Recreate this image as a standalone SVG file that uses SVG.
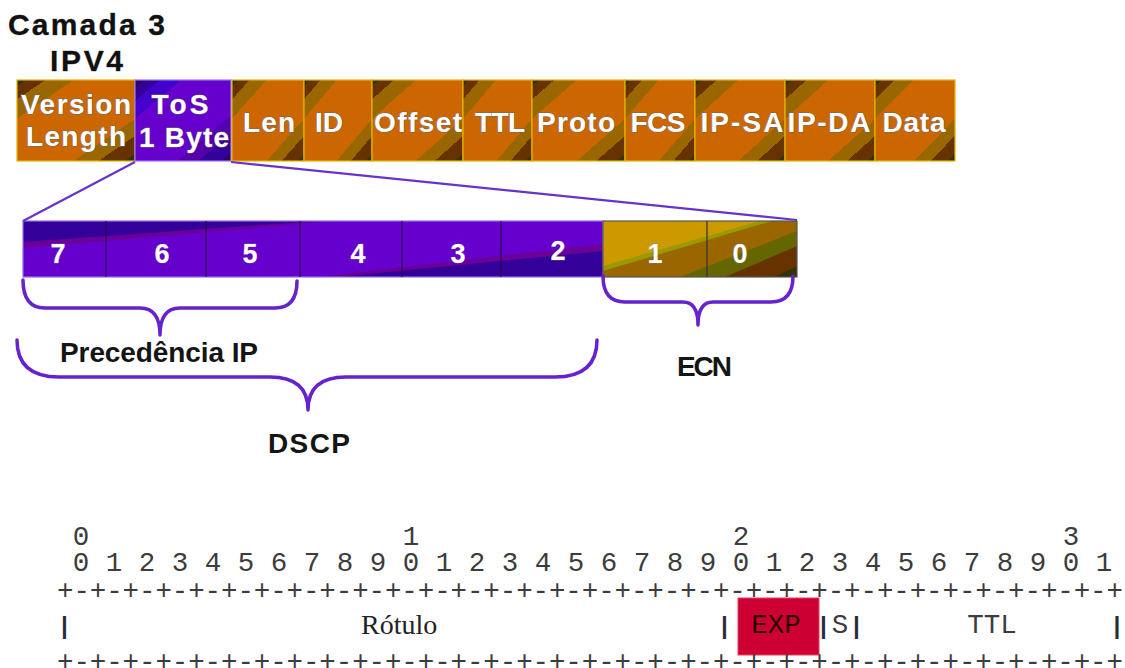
<svg xmlns="http://www.w3.org/2000/svg" width="1125" height="668" viewBox="0 0 1125 668">
<style>
.bg{fill:#fff}
.cell{stroke:#E3B400;stroke-width:1.2}
.tos{stroke:#9A77EE;stroke-width:1.2}
.fl{font-family:"Liberation Sans",Arial,sans-serif;font-weight:bold;font-size:28px;fill:#fff;stroke:#6a6a6a;stroke-width:0.9;paint-order:stroke;text-anchor:middle}
.bit{font-family:"Liberation Sans",Arial,sans-serif;font-weight:bold;font-size:27px;fill:#fff;stroke:#8a7aa0;stroke-width:0.5;paint-order:stroke;text-anchor:middle}
.ttl{font-family:"Liberation Sans",Arial,sans-serif;font-weight:bold;font-size:30px;fill:#111;stroke:#555;stroke-width:0.4;paint-order:stroke}
.lbl{font-family:"Liberation Sans",Arial,sans-serif;font-weight:bold;font-size:28px;fill:#151515}
.mono{font-family:"Liberation Mono","Courier New",monospace;font-size:27.5px;fill:#3c3c3c}
.bar{font-family:"Liberation Mono","Courier New",monospace;font-size:24px;font-weight:bold;fill:#2a2a3a;text-anchor:middle}
.ser{font-family:"Liberation Serif","Times New Roman",serif;font-size:28px;fill:#222}
.brace{fill:none;stroke:#6622CC;stroke-width:3.5;stroke-linecap:round;stroke-linejoin:round}
.zoom{fill:none;stroke:#6633CC;stroke-width:2.2}
.div{stroke:#2a0850;stroke-width:1.2}
</style>
<defs>
<linearGradient id="org" x1="0" y1="0" x2="1" y2="1">
<stop offset="0" stop-color="#333300"/><stop offset="0.04" stop-color="#333300"/>
<stop offset="0.04" stop-color="#663300"/><stop offset="0.12" stop-color="#663300"/>
<stop offset="0.12" stop-color="#996600"/><stop offset="0.24" stop-color="#996600"/>
<stop offset="0.24" stop-color="#CC6600"/><stop offset="0.74" stop-color="#CC6600"/>
<stop offset="0.74" stop-color="#996600"/><stop offset="0.845" stop-color="#996600"/>
<stop offset="0.845" stop-color="#663300"/><stop offset="0.955" stop-color="#663300"/>
<stop offset="0.955" stop-color="#333300"/><stop offset="1" stop-color="#333300"/>
</linearGradient>
<linearGradient id="pur" x1="0" y1="0" x2="1" y2="1">
<stop offset="0" stop-color="#330066"/><stop offset="0.05" stop-color="#330066"/>
<stop offset="0.05" stop-color="#330099"/><stop offset="0.13" stop-color="#330099"/>
<stop offset="0.13" stop-color="#4400CC"/><stop offset="0.24" stop-color="#4400CC"/>
<stop offset="0.24" stop-color="#6600CC"/><stop offset="0.72" stop-color="#6600CC"/>
<stop offset="0.72" stop-color="#5500AA"/><stop offset="0.83" stop-color="#5500AA"/>
<stop offset="0.83" stop-color="#330099"/><stop offset="0.95" stop-color="#330099"/>
<stop offset="0.95" stop-color="#330066"/><stop offset="1" stop-color="#330066"/>
</linearGradient>
</defs>
<rect class="bg" x="0" y="0" width="1125" height="668"/>

<g id="title">
<text class="ttl" x="8" y="35" textLength="157" lengthAdjust="spacing">Camada 3</text>
<text class="ttl" x="50" y="71" textLength="73" lengthAdjust="spacing">IPV4</text>
</g>

<g id="ipv4-header">
<g id="f-version"><rect class="cell" x="17" y="80" width="118" height="81" fill="url(#org)"/>
<text class="fl" x="76" y="114" textLength="110" lengthAdjust="spacing">Version</text>
<text class="fl" x="76" y="146" textLength="100" lengthAdjust="spacing">Length</text></g>
<g id="f-tos"><rect class="tos" x="135" y="80" width="96" height="81" fill="url(#pur)"/>
<text class="fl" x="180" y="114" textLength="57" lengthAdjust="spacing">ToS</text>
<text class="fl" x="184" y="147" textLength="90" lengthAdjust="spacing">1 Byte</text></g>
<g id="f-len"><rect class="cell" x="232" y="80" width="72" height="81" fill="url(#org)"/>
<text class="fl" x="269" y="132" textLength="52" lengthAdjust="spacing">Len</text></g>
<g id="f-id"><rect class="cell" x="304" y="80" width="68" height="81" fill="url(#org)"/>
<text class="fl" x="329" y="132" textLength="28" lengthAdjust="spacing">ID</text></g>
<g id="f-offset"><rect class="cell" x="372" y="80" width="91" height="81" fill="url(#org)"/>
<text class="fl" x="418" y="132" textLength="88" lengthAdjust="spacing">Offset</text></g>
<g id="f-ttl"><rect class="cell" x="463" y="80" width="69" height="81" fill="url(#org)"/>
<text class="fl" x="500" y="132" textLength="50" lengthAdjust="spacing">TTL</text></g>
<g id="f-proto"><rect class="cell" x="532" y="80" width="93" height="81" fill="url(#org)"/>
<text class="fl" x="576" y="132" textLength="78" lengthAdjust="spacing">Proto</text></g>
<g id="f-fcs"><rect class="cell" x="625" y="80" width="70" height="81" fill="url(#org)"/>
<text class="fl" x="658" y="132" textLength="55" lengthAdjust="spacing">FCS</text></g>
<g id="f-ipsa"><rect class="cell" x="695" y="80" width="90" height="81" fill="url(#org)"/>
<text class="fl" x="742" y="132" textLength="83" lengthAdjust="spacing">IP-SA</text></g>
<g id="f-ipda"><rect class="cell" x="785" y="80" width="90" height="81" fill="url(#org)"/>
<text class="fl" x="829" y="132" textLength="83" lengthAdjust="spacing">IP-DA</text></g>
<g id="f-data"><rect class="cell" x="875" y="80" width="80" height="81" fill="url(#org)"/>
<text class="fl" x="914" y="132" textLength="63" lengthAdjust="spacing">Data</text></g>
</g>

<g id="tos-byte">
<g id="dscp-bits">
<rect x="23" y="221" width="580" height="56" fill="#6600CC"/>
<polygon points="23,221 332,221 23,248" fill="#6A0099"/>
<polygon points="23,221 316,221 23,242" fill="#330099"/>
<polygon points="603,244 603,277 318,277" fill="#6A0099"/>
<polygon points="603,251 603,277 338,277" fill="#330099"/>
<rect x="23" y="221" width="580" height="56" fill="none" stroke="#8F72E8" stroke-width="1.2"/>
<line class="div" x1="106" y1="221" x2="106" y2="277"/>
<line class="div" x1="206" y1="221" x2="206" y2="277"/>
<line class="div" x1="300" y1="221" x2="300" y2="277"/>
<line class="div" x1="402" y1="221" x2="402" y2="277"/>
<line class="div" x1="501" y1="221" x2="501" y2="277"/>
</g>
<g id="ecn-bits">
<rect x="603" y="221" width="194" height="56" fill="#996600"/>
<polygon points="603,221 772,221 603,271" fill="#999900"/>
<polygon points="603,221 760,221 603,266" fill="#CC9900"/>
<polygon points="797,231 797,277 680,277" fill="#666600"/>
<polygon points="797,246 797,277 725,277" fill="#663300"/>
<polygon points="797,266 797,277 775,277" fill="#333300"/>
<rect x="603" y="221" width="194" height="56" fill="none" stroke="#555" stroke-width="1.2"/>
<line x1="707" y1="221" x2="707" y2="277" stroke="#333" stroke-width="1.2"/>
</g>
<text class="bit" x="58" y="263">7</text>
<text class="bit" x="162" y="263">6</text>
<text class="bit" x="250" y="263">5</text>
<text class="bit" x="358" y="263">4</text>
<text class="bit" x="458" y="263">3</text>
<text class="bit" x="558" y="260">2</text>
<text class="bit" x="655" y="263">1</text>
<text class="bit" x="740" y="263">0</text>
</g>

<g id="connectors">
<line class="zoom" x1="135" y1="162" x2="23" y2="221"/>
<line class="zoom" x1="231" y1="162" x2="797" y2="220"/>
<path class="brace" d="M23,280 Q23,308 45,308 L140,308 Q160,308 160,335 Q160,308 180,308 L275,308 Q297,308 297,281"/>
<path class="brace" d="M17,340 Q17,377 59,377 L270,377 Q308,377 308,410 Q308,377 346,377 L555,377 Q597,377 597,340"/>
<path class="brace" d="M603,276 Q603,302 625,302 L683,302 Q698,302 698,325 Q698,302 713,302 L771,302 Q793,302 793,276"/>
</g>

<g id="labels">
<text class="lbl" x="60" y="362" textLength="198" lengthAdjust="spacing">Precedência IP</text>
<text class="lbl" x="268" y="453" textLength="82" lengthAdjust="spacing">DSCP</text>
<text class="lbl" x="677" y="376" textLength="55" lengthAdjust="spacing">ECN</text>
</g>

<g id="mpls-header">
<g id="ruler-digits">
<text class="mono" x="81" y="545" text-anchor="middle">0</text>
<text class="mono" x="411" y="545" text-anchor="middle">1</text>
<text class="mono" x="741" y="545" text-anchor="middle">2</text>
<text class="mono" x="1071" y="545" text-anchor="middle">3</text>
<text class="mono" x="72.75" y="571" textLength="1039.5" lengthAdjust="spacing">0 1 2 3 4 5 6 7 8 9 0 1 2 3 4 5 6 7 8 9 0 1 2 3 4 5 6 7 8 9 0 1</text>
</g>
<text class="mono" x="57" y="598.5" textLength="1066" lengthAdjust="spacing">+-+-+-+-+-+-+-+-+-+-+-+-+-+-+-+-+-+-+-+-+-+-+-+-+-+-+-+-+-+-+-+-+</text>
<g id="exp-box"><rect x="738" y="598" width="81" height="57" fill="#CC0033" stroke="#E04060" stroke-width="1"/>
<text class="mono" x="776" y="633" text-anchor="middle" style="fill:#2a0000">EXP</text></g>
<g id="fields">
<text class="bar" x="64.5" y="634">|</text>
<text class="ser" x="361" y="634">Rótulo</text>
<text class="bar" x="724.5" y="634">|</text>
<text class="bar" x="823.5" y="634">|</text>
<text class="mono" x="840" y="633" text-anchor="middle">S</text>
<text class="bar" x="856.5" y="634">|</text>
<text class="mono" x="992" y="633" text-anchor="middle">TTL</text>
<text class="bar" x="1117" y="634">|</text>
</g>
<text class="mono" x="57" y="669.5" textLength="1066" lengthAdjust="spacing">+-+-+-+-+-+-+-+-+-+-+-+-+-+-+-+-+-+-+-+-+-+-+-+-+-+-+-+-+-+-+-+-+</text>
</g>
</svg>
